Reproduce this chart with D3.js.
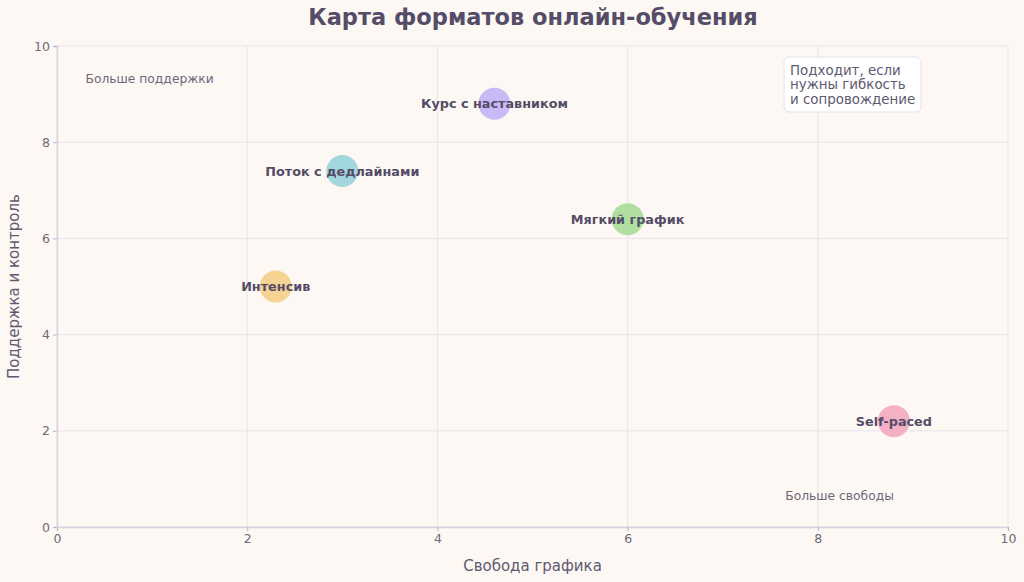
<!DOCTYPE html>
<html><head><meta charset="utf-8">
<script src="https://cdn.jsdelivr.net/npm/d3@7"></script>
<style>
html,body{margin:0;padding:0;background:#fdf8f4;}
svg{display:block;font-family:"DejaVu Sans",sans-serif;}
</style></head>
<body><svg id="c" width="1024" height="582"></svg>
<script>
const names = ["Курс с наставником","Поток с дедлайнами","Мягкий график","Интенсив","Self-paced"];
const freedom = [4.6, 3.0, 6.0, 2.3, 8.8];
const support = [8.8, 7.4, 6.4, 5.0, 2.2];
const colors = ["#c3b1f7","#98d3da","#a7dc97","#f4cf88","#f3a7bf"];
const xTicks = [0,2,4,6,8,10];
const yTicks = [0,2,4,6,8,10];
const noteLines = ["Подходит, если","нужны гибкость","и сопровождение"];

const svg = d3.select("#c");
const W=1024,H=582, m={l:57,r:16,t:46,b:55};
svg.append("rect").attr("width",W).attr("height",H).attr("fill","#fdf8f4");
const x = d3.scaleLinear().domain([0,10]).range([m.l, W-m.r]);
const y = d3.scaleLinear().domain([0,10]).range([H-m.b, m.t]);

// grid
const g = svg.append("g");
g.selectAll(".gx").data(xTicks).join("line")
  .attr("x1",d=>x(d)).attr("x2",d=>x(d)).attr("y1",y(0)).attr("y2",y(10))
  .attr("stroke","#e9e4ec").attr("stroke-width",1);
g.selectAll(".gy").data(yTicks).join("line")
  .attr("y1",d=>y(d)).attr("y2",d=>y(d)).attr("x1",x(0)).attr("x2",x(10))
  .attr("stroke","#e9e4ec").attr("stroke-width",1);

// axes
const xa = svg.append("g").attr("transform",`translate(0,${y(0)})`)
  .call(d3.axisBottom(x).tickValues(xTicks).tickSize(4).tickPadding(3));
const ya = svg.append("g").attr("transform",`translate(${x(0)},0)`)
  .call(d3.axisLeft(y).tickValues(yTicks).tickSize(4).tickPadding(3));
[xa,ya].forEach(a=>{
  a.select(".domain").attr("stroke","#d9d3df").attr("stroke-width",1.5);
  a.selectAll(".tick line").attr("stroke","#b9b3c2");
  a.selectAll(".tick text").attr("fill","#6e687a").attr("font-size",12.5).attr("font-family","DejaVu Sans");
});

// title
svg.append("text").attr("x",533).attr("y",25).attr("text-anchor","middle")
  .attr("font-size",22.5).attr("font-weight","bold").attr("fill","#554d68")
  .text("Карта форматов онлайн-обучения");

// axis titles
svg.append("text").attr("x",(x(0)+x(10))/2).attr("y",571).attr("text-anchor","middle")
  .attr("font-size",15).attr("fill","#5e5870").text("Свобода графика");
svg.append("text").attr("transform",`translate(19,${(y(0)+y(10))/2}) rotate(-90)`)
  .attr("text-anchor","middle").attr("font-size",15).attr("fill","#5e5870").text("Поддержка и контроль");

// corner annotations
svg.append("text").attr("x",x(0.3)).attr("y",y(9.31)).attr("font-size",12.3).attr("fill","#6e687a")
  .attr("dominant-baseline","middle").text("Больше поддержки");
svg.append("text").attr("x",x(8.8)).attr("y",y(0.64)).attr("text-anchor","end").attr("font-size",12.3).attr("fill","#6e687a")
  .attr("dominant-baseline","middle").text("Больше свободы");

// points
const data = names.map((n,i)=>({n, fx:freedom[i], sy:support[i], c:colors[i]}));
svg.selectAll("circle.pt").data(data).join("circle")
  .attr("cx",d=>x(d.fx)).attr("cy",d=>y(d.sy)).attr("r",16)
  .attr("fill",d=>d.c).attr("opacity",0.9);
svg.selectAll("text.lbl").data(data).join("text")
  .attr("x",d=>x(d.fx)).attr("y",d=>y(d.sy)).attr("text-anchor","middle")
  .attr("dominant-baseline","central").attr("font-size",12.8).attr("font-weight","bold")
  .attr("fill","#544c66").text(d=>d.n);

// note box
const nb = svg.append("g").attr("transform","translate(784,57)");
nb.append("rect").attr("width",137).attr("height",55).attr("rx",5)
  .attr("fill","#ffffff").attr("stroke","#e4e0ee").attr("stroke-width",1);
nb.selectAll("text").data(noteLines).join("text")
  .attr("x",6).attr("y",(d,i)=>13.5+i*14.8).attr("dominant-baseline","middle")
  .attr("font-size",13.4).attr("fill","#5e5870").text(d=>d);
</script></body></html>
